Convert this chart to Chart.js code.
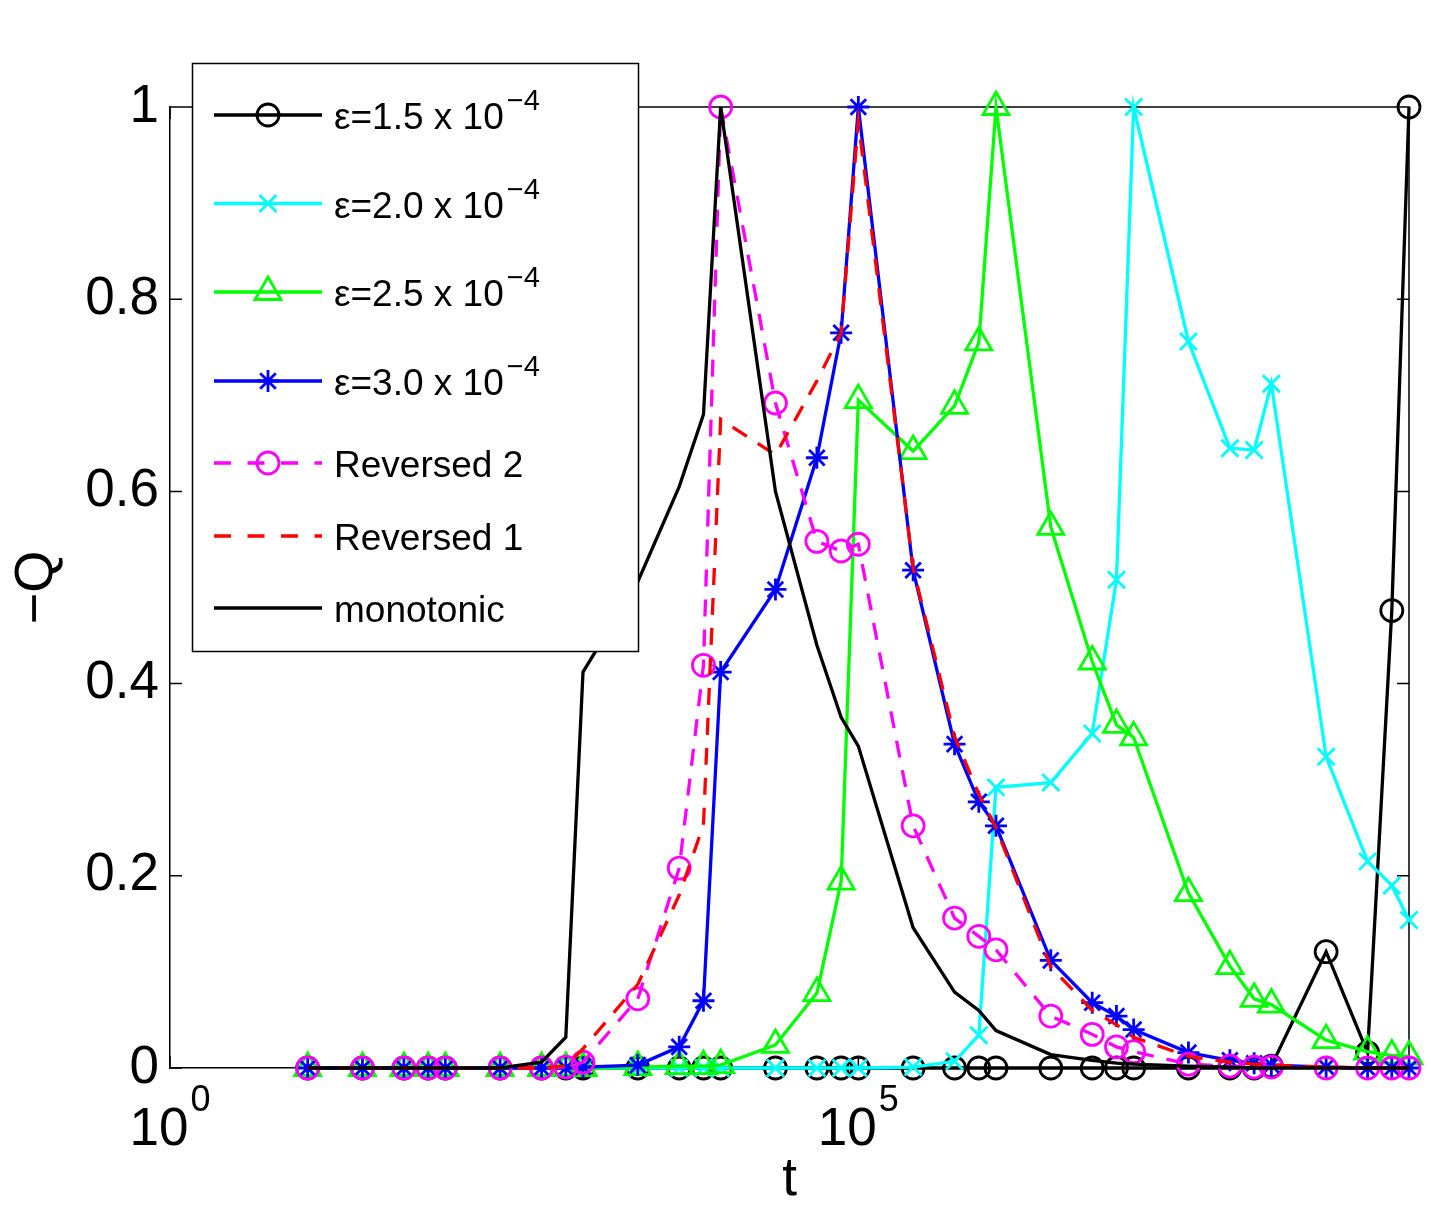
<!DOCTYPE html>
<html><head><meta charset="utf-8">
<script src="https://cdn.jsdelivr.net/npm/chart.js@4.4.1/dist/chart.umd.min.js"></script>
<style>html,body{margin:0;padding:0;background:#fff;overflow:hidden}#wrap{width:1431px;height:1214px;position:relative}</style>
</head><body><div id="wrap"><canvas id="c" width="1431" height="1214"></canvas></div>
<script>
const FONT = '"Liberation Sans", Arial, Helvetica, sans-serif';

// t grid (x values)
const tValues = [10,25,50,75,100,250,500,750,1e3,2.5e3,5e3,7.5e3,1e4,2.5e4,5e4,7.5e4,1e5,2.5e5,5e5,7.5e5,1e6,2.5e6,5e6,7.5e6,1e7,2.5e7,5e7,7.5e7,1e8,2.5e8,5e8,7.5e8,1e9];
// -Q series
const eps15 = [0,0,0,0,0,0,0,0,0,0,0,0,0,0,0,0,0,0,0,0,0,0,0,0,0,0,0,0,0.002,0.121,0.016,0.476,1.0];
const eps20 = [0,0,0,0,0,0,0,0,0,0,0,0,0,0,0,0,0,0.001,0.007,0.034,0.292,0.297,0.348,0.508,1.0,0.756,0.645,0.643,0.712,0.324,0.215,0.19,0.154];
const eps25 = [0,0,0,0,0,0,0,0,0,0.001,0.002,0.002,0.003,0.024,0.078,0.194,0.695,0.642,0.689,0.755,1.0,0.563,0.423,0.357,0.344,0.182,0.106,0.072,0.066,0.029,0.017,0.013,0.012];
const eps30 = [0,0,0,0,0,0,0,0,0.001,0.003,0.022,0.07,0.412,0.498,0.635,0.765,1.0,0.518,0.337,0.277,0.252,0.112,0.068,0.054,0.04,0.016,0.008,0.005,0.003,0.001,0,0,0];
const reversed2 = [0,0,0,0,0,0,0,0.001,0.006,0.072,0.208,0.419,1.0,0.692,0.548,0.538,0.545,0.252,0.156,0.137,0.123,0.054,0.035,0.022,0.017,0.004,0.002,0.001,0.001,0,0,0,0];
const reversed1 = [0,0,0,0,0,0,0,0.002,0.02,0.087,0.18,0.253,0.675,0.638,0.715,0.765,0.985,0.52,0.345,0.285,0.25,0.105,0.06,0.045,0.032,0.012,0.006,0.004,0.003,0.001,0,0,0];
const monotonic = [0,0,0,0,0,0,0.006,0.032,0.412,0.506,0.605,0.68,1.0,0.60,0.44,0.365,0.335,0.146,0.079,0.06,0.039,0.014,0.008,0.005,0.004,0.002,0.001,0,0,0,0,0,0];

// ticks / labels
const xTickValues = [1, 1e5];
const xTickExponents = ['0', '5'];
const yTickValues = [0, 0.2, 0.4, 0.6, 0.8, 1];
const legendMain = ['ε=1.5 x 10', 'ε=2.0 x 10', 'ε=2.5 x 10', 'ε=3.0 x 10', 'Reversed 2', 'Reversed 1', 'monotonic'];
const legendSup  = ['−4', '−4', '−4', '−4', '', '', ''];

const seriesList = [eps15, eps20, eps25, eps30, reversed2, reversed1, monotonic];
const styles = [
  {color:'#000000', point:'circle',   r:11, dash:[]},
  {color:'#00ffff', point:'crossRot', r:12, dash:[]},
  {color:'#00ff00', point:'triangle', r:15, dash:[]},
  {color:'#0000ff', point:'star',     r:11, dash:[]},
  {color:'#ff00ff', point:'circle',   r:11, dash:[17,13]},
  {color:'#ff0000', point:false,      r:0,  dash:[17,13]},
  {color:'#000000', point:false,      r:0,  dash:[]}
];

const datasets = seriesList.map((vals, i) => ({
  label: legendMain[i] + legendSup[i],
  data: tValues.map((t, k) => ({x: t, y: vals[k]})),
  borderColor: styles[i].color,
  borderWidth: 3.3,
  borderDash: styles[i].dash,
  pointStyle: styles[i].point || 'circle',
  pointRadius: styles[i].r,
  pointHoverRadius: styles[i].r,
  pointBorderWidth: 2.8,
  pointBorderColor: styles[i].color,
  pointBackgroundColor: 'rgba(0,0,0,0)',
  fill: false,
  tension: 0,
  clip: false,
  order: seriesList.length - i
}));

const boxPlugin = {
  id: 'boxPlugin',
  beforeDatasetsDraw(chart) {
    const {ctx, chartArea: a, scales: {x, y}} = chart;
    ctx.save();
    ctx.strokeStyle = '#000';
    ctx.lineWidth = 1.5;
    ctx.beginPath();
    ctx.moveTo(a.left, a.top); ctx.lineTo(a.right, a.top); ctx.lineTo(a.right, a.bottom);
    const tl = 12;
    yTickValues.forEach(v => {
      const py = y.getPixelForValue(v);
      ctx.moveTo(a.left, py); ctx.lineTo(a.left + tl, py);
      ctx.moveTo(a.right, py); ctx.lineTo(a.right - tl, py);
    });
    xTickValues.forEach(v => {
      const px = x.getPixelForValue(v);
      ctx.moveTo(px, a.bottom); ctx.lineTo(px, a.bottom - tl);
      ctx.moveTo(px, a.top); ctx.lineTo(px, a.top + tl);
    });
    ctx.stroke();
    ctx.restore();
  },
  afterDraw(chart) {
    const {ctx, chartArea: a, scales: {x}} = chart;
    ctx.save();
    // x tick labels with superscript exponent
    ctx.fillStyle = '#000';
    ctx.textBaseline = 'alphabetic';
    ctx.textAlign = 'left';
    xTickValues.forEach((v, i) => {
      const px = x.getPixelForValue(v);
      ctx.font = '53px ' + FONT;
      const wb = ctx.measureText('10').width;
      ctx.font = '36px ' + FONT;
      const ws = ctx.measureText(xTickExponents[i]).width;
      const x0 = px - (wb + 2 + ws) / 2;
      ctx.font = '53px ' + FONT;
      ctx.fillText('10', x0, a.bottom + 77);
      ctx.font = '36px ' + FONT;
      ctx.fillText(xTickExponents[i], x0 + wb + 2, a.bottom + 43);
    });
    // legend
    const L = 192.5, T = 63.5, W = 446, H = 588;
    ctx.fillStyle = '#fff';
    ctx.fillRect(L, T, W, H);
    ctx.strokeStyle = '#000';
    ctx.lineWidth = 1.5;
    ctx.strokeRect(L, T, W, H);
    const rowY = [115, 203.5, 292, 381, 463, 536, 608];
    for (let i = 0; i < legendMain.length; i++) {
      const yy = rowY[i];
      const st = styles[i];
      ctx.save();
      ctx.strokeStyle = st.color;
      ctx.lineWidth = 3.3;
      ctx.setLineDash(st.dash.length ? [17, 16.5] : []);
      ctx.beginPath();
      ctx.moveTo(214, yy); ctx.lineTo(322, yy);
      ctx.stroke();
      ctx.setLineDash([]);
      if (st.point) {
        ctx.lineWidth = 2.8;
        ctx.fillStyle = 'rgba(0,0,0,0)';
        Chart.helpers.drawPoint(ctx, {pointStyle: st.point, radius: st.r, borderWidth: 2.8, rotation: 0}, 268, yy);
      }
      ctx.restore();
      ctx.fillStyle = '#000';
      ctx.font = '37px ' + FONT;
      ctx.fillText(legendMain[i], 334, yy + 14);
      if (legendSup[i]) {
        const w = ctx.measureText(legendMain[i]).width;
        ctx.font = '29px ' + FONT;
        ctx.fillText(legendSup[i], 334 + w + 3, yy - 5);
      }
    }
    ctx.restore();
  }
};

new Chart(document.getElementById('c'), {
  type: 'line',
  data: {datasets},
  options: {
    responsive: false,
    animation: false,
    events: [],
    layout: {padding: {top: 107, right: 22, left: 0, bottom: 0}},
    plugins: {legend: {display: false}, tooltip: {enabled: false}},
    scales: {
      x: {
        type: 'logarithmic', min: 1, max: 1e9, position: 'bottom',
        grid: {display: false, drawTicks: false},
        border: {display: true, color: '#000', width: 1.5},
        ticks: {display: false},
        title: {display: true, text: 't', color: '#000', font: {family: FONT, size: 53}, padding: {top: 0, bottom: 2}},
        afterFit(s) { s.height = 146; }
      },
      y: {
        type: 'linear', min: 0, max: 1,
        grid: {display: false, drawTicks: false},
        border: {display: true, color: '#000', width: 1.5},
        afterBuildTicks(s) { s.ticks = yTickValues.map(v => ({value: v})); },
        ticks: {
          autoSkip: false, padding: 11, color: '#000',
          font: {family: FONT, size: 53},
          callback: v => String(Number(v.toFixed(1)))
        },
        title: {display: true, text: '−Q', color: '#000', font: {family: FONT, size: 54}, padding: {top: 5, bottom: 0}},
        afterFit(s) { s.width = 170; }
      }
    }
  },
  plugins: [boxPlugin]
});
</script></body></html>
